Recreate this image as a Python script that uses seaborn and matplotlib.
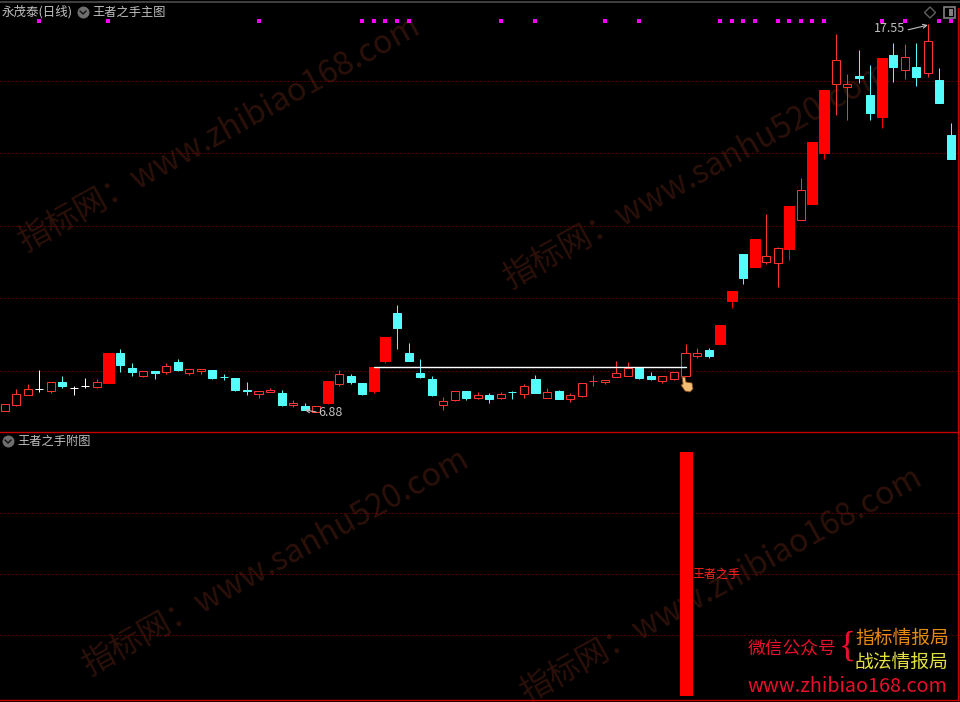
import numpy as np
import pandas as pd
import matplotlib
matplotlib.use("Agg")
import matplotlib.pyplot as plt
from matplotlib.lines import Line2D
from matplotlib.patches import Polygon, Rectangle
import seaborn as sns

opens = [6.91, 7.06, 7.35, 7.50, 7.45, 7.70, 7.54, 7.58, 7.57, 7.67,
         8.50, 8.08, 7.87, 8.00, 7.98, 8.25, 7.95, 8.00, 8.03, 7.84,
         7.81, 7.47, 7.37, 7.43, 7.39, 7.07, 7.04, 6.88, 7.12, 7.64,
         7.86, 7.67, 7.45, 8.28, 9.60, 8.50, 7.94, 7.78, 7.06, 7.20,
         7.45, 7.26, 7.34, 7.26, 7.42, 7.37, 7.78, 7.26, 7.45, 7.23,
         7.31, 7.72, 7.70, 7.83, 7.86, 8.08, 7.86, 7.72, 7.78, 7.86,
         8.41, 8.58, 8.74, 9.93, 11.22, 10.87, 11.01, 10.98, 11.36, 12.17,
         12.60, 14.01, 15.92, 15.83, 16.12, 15.60, 15.00, 16.71, 16.30, 16.38,
         16.22, 16.02, 14.50]
closes = [7.08, 7.36, 7.50, 7.50, 7.69, 7.59, 7.54, 7.58, 7.69, 8.50,
          8.17, 7.97, 7.99, 7.94, 8.13, 8.03, 8.05, 8.05, 7.81, 7.83,
          7.48, 7.46, 7.44, 7.48, 7.06, 7.12, 6.93, 7.04, 7.72, 7.92,
          7.70, 7.37, 8.11, 8.94, 9.18, 8.28, 7.83, 7.34, 7.17, 7.45,
          7.26, 7.33, 7.23, 7.37, 7.41, 7.59, 7.39, 7.42, 7.23, 7.34,
          7.67, 7.73, 7.75, 7.94, 8.08, 7.81, 7.78, 7.86, 7.97, 8.50,
          8.50, 8.41, 9.27, 10.20, 10.56, 11.64, 11.16, 11.38, 12.55, 12.98,
          14.31, 15.74, 16.56, 15.90, 16.07, 15.11, 16.62, 16.38, 16.64, 16.10,
          17.08, 15.38, 13.84]
highs = [7.08, 7.50, 7.64, 8.03, 7.69, 7.86, 7.59, 7.81, 7.78, 8.50,
         8.61, 8.22, 7.99, 8.00, 8.21, 8.33, 8.05, 8.05, 8.03, 7.92,
         7.81, 7.70, 7.44, 7.53, 7.48, 7.20, 7.12, 7.04, 7.72, 8.03,
         7.92, 7.67, 8.11, 8.94, 9.82, 8.77, 8.33, 7.86, 7.28, 7.45,
         7.45, 7.42, 7.39, 7.42, 7.45, 7.64, 7.89, 7.53, 7.48, 7.39,
         7.67, 7.89, 7.75, 8.28, 8.25, 8.08, 7.97, 7.86, 7.97, 8.74,
         8.63, 8.63, 9.27, 10.20, 11.22, 11.64, 12.33, 11.42, 12.55, 13.32,
         14.31, 15.74, 17.28, 16.18, 16.84, 16.43, 16.62, 17.04, 17.01, 17.04,
         17.55, 16.35, 14.83]
lows = [6.91, 7.04, 7.35, 7.43, 7.39, 7.54, 7.34, 7.53, 7.54, 7.67,
        7.97, 7.86, 7.83, 7.78, 7.93, 8.00, 7.89, 7.92, 7.78, 7.75,
        7.45, 7.34, 7.26, 7.43, 7.04, 7.01, 6.93, 6.88, 7.09, 7.59,
        7.64, 7.34, 7.39, 8.22, 8.61, 8.28, 7.81, 7.31, 6.93, 7.17,
        7.20, 7.23, 7.12, 7.23, 7.23, 7.26, 7.39, 7.26, 7.23, 7.15,
        7.28, 7.59, 7.64, 7.83, 7.86, 7.78, 7.75, 7.67, 7.75, 7.86,
        8.36, 8.36, 8.74, 9.74, 10.40, 10.87, 10.95, 10.31, 11.06, 12.17,
        12.60, 13.84, 15.05, 14.92, 15.93, 14.92, 14.69, 15.96, 16.04, 15.85,
        16.10, 15.38, 13.84]
# filled red candles (drawn wider than the hollow ones)
solid_bars = [9, 28, 32, 33, 62, 63, 65, 68, 70, 71, 76]
# magenta signal row along the top of the main pane
signal_bars = [3, 9, 22, 31, 32, 33, 34, 35, 43, 46, 52, 55, 62, 63, 64, 65,
               67, 68, 69, 70, 71, 76, 78, 81, 82]
signal_level = 17.64
# white breakout line
line_bars = [32, 59]
line_level = 8.10
# sub pane: one bar only
sub_bar = 59
sub_value = 1.0

grid_main = [8, 10, 12, 14, 16]
grid_sub = [0.25, 0.5, 0.75]

RED = "#ff3232"
SOLID = "#ff0000"
CYAN = "#54fcfc"
GRID = "#a00000"
GRAY = "#c0c0c0"
WM = "#2c100a"

W, H = 960, 702

sns.set_theme(style="dark", rc={"figure.facecolor": "black", "savefig.facecolor": "black",
                                "axes.facecolor": "none", "axes.grid": False})
plt.rcParams['font.family'] = ['Noto Sans CJK SC', 'DejaVu Sans']

fig = plt.figure(figsize=(W / 100, H / 100), dpi=100)


def make_axes(top, bottom):
    return fig.add_axes([0, 1 - bottom / H, 958 / W, (bottom - top) / H])


ax1 = make_axes(8, 432)
ax2 = make_axes(433, 700)

n = len(opens)
idx = np.arange(n)
o = np.array(opens)
c = np.array(closes)
is_solid = np.isin(idx, solid_bars)
colors = np.where(c > o, RED, np.where(c < o, CYAN, "#ffffff"))
colors = np.where(is_solid, SOLID, colors)
faces = np.where(c < o, CYAN, "#000000")
faces = np.where(is_solid, SOLID, faces)
widths = np.where(is_solid, 0.87, 0.7)

wicks = ax1.vlines(idx, lows, highs, colors=colors, lw=0.72, zorder=2)
wicks.set_snap(True)
bars = ax1.bar(idx, np.abs(c - o), bottom=np.minimum(o, c), width=widths, facecolor=faces,
               edgecolor=colors, linewidth=0.72, zorder=3)
for b in bars:
    b.set_joinstyle("miter")
    b.set_snap(True)

signals = pd.DataFrame({"bar": signal_bars, "level": signal_level})
sns.scatterplot(data=signals, x="bar", y="level", ax=ax1, marker="s", s=7, color="#ff00ff",
                linewidth=0, zorder=4, legend=False)

sns.lineplot(x=line_bars, y=[line_level, line_level], ax=ax1, color="white", lw=1.0,
             zorder=4, errorbar=None)

for g in grid_main:
    ax1.axhline(g, color=GRID, lw=0.72, ls=(0, (1, 3)), zorder=1)

ax1.set_xlim(-0.40, 82.61)
ax1.set_ylim(6.32, 18.0)

sub = pd.DataFrame({"bar": idx, "v": np.where(idx == sub_bar, sub_value, 0.0)})
sns.barplot(data=sub, x="bar", y="v", ax=ax2, native_scale=True, color=SOLID, saturation=1,
            width=1.13, linewidth=0, zorder=3)
for g in grid_sub:
    ax2.axhline(g, color=GRID, lw=0.72, ls=(0, (1, 3)), zorder=1)
ax2.set_xlim(-0.46, 82.55)
ax2.set_ylim(-0.016, 1.078)

for ax in (ax1, ax2):
    ax.set_xticks([])
    ax.set_yticks([])
    ax.set_xlabel("")
    ax.set_ylabel("")
    ax.patch.set_alpha(0)
    for s in ("top", "left"):
        ax.spines[s].set_visible(False)
    for s in ("right", "bottom"):
        ax.spines[s].set_color("#c80000")
        ax.spines[s].set_linewidth(1.0)


def px(x, y):
    return x / W, 1 - y / H


def label(x, y, s, size, color, **kw):
    kw.setdefault("ha", "left")
    kw.setdefault("va", "center")
    return fig.text(*px(x, y), s, fontsize=size * 0.72, color=color, **kw)


# watermarks sit behind the axes
for x, y, s in [(21, 243, "指标网：www.zhibiao168.com"),
                (506, 280, "指标网：www.sanhu520.com"),
                (85, 667, "指标网：www.sanhu520.com"),
                (523, 694, "指标网：www.zhibiao168.com")]:
    fig.text(*px(x, y), s, fontsize=23.2, color=WM, rotation=28.9, rotation_mode="anchor",
             ha="left", va="center", zorder=-1)

# top strip
fig.add_artist(Line2D([0, 1], [1 - 2 / H, 1 - 2 / H], color="#404040", lw=1.4))


def icon(x, y):
    fig.add_artist(Line2D([x / W], [1 - y / H], marker="o", ms=8.6, mfc="#6e6e6e", mec="none", ls=""))
    fig.add_artist(Line2D([(x - 3) / W, x / W, (x + 3) / W],
                          [1 - (y - 1) / H, 1 - (y + 2) / H, 1 - (y - 1) / H], color="#111111", lw=1.0))


label(2, 12, "永茂泰(日线)", 12.5, GRAY)
icon(83, 12)
label(92, 12, "王者之手主图", 12.2, GRAY)
icon(8, 441)
label(17, 441, "王者之手附图", 12.2, GRAY)

# right hand top icons
fig.add_artist(Polygon([px(930, 7), px(935.5, 12.5), px(930, 18), px(924.5, 12.5)], closed=True,
                       fill=False, ec="#606060", lw=1.0))
fig.add_artist(Rectangle(px(944, 18), 11 / W, 11 / H, fill=False, ec="#808080", lw=1.2))
fig.add_artist(Rectangle(px(949, 16), 4 / W, 7 / H, fc="#808080", ec="none"))

# high / low labels
label(318, 413, "6.88", 12.5, GRAY)
ax1.annotate("", xy=(26.0, 6.93), xytext=(27.0, 6.87), zorder=5,
             arrowprops=dict(arrowstyle="->", color=GRAY, lw=0.8, mutation_scale=7, shrinkA=0, shrinkB=0))
label(874, 28, "17.55", 12.5, GRAY)
ax1.annotate("", xy=(80, 17.53), xytext=(78.3, 17.40), zorder=5,
             arrowprops=dict(arrowstyle="->", color=GRAY, lw=0.8, mutation_scale=7, shrinkA=0, shrinkB=0))

label(692, 574, "王者之手", 12, "#ff2020")

# hand cursor
fig.add_artist(Polygon([px(682, 377), px(685, 377), px(686, 382), px(692, 383), px(693, 389),
                        px(690, 392), px(685, 391), px(681, 385), px(683, 384)], closed=True,
                       fc="#f2bd73", ec="#7a4a20", lw=0.6))

# bottom right stamp
label(748, 650, "微信公众号", 17.7, "#e8102a")
label(847, 647, "{", 36, "#e8102a", ha="center", family=["Liberation Serif"])
label(855, 638, "指标情报局", 18.8, "#e58a10")
label(855, 662, "战法情报局", 18.8, "#e4e040")
label(747, 687, "www.zhibiao168.com", 19.8, "#e8102a")

fig.savefig("out.png", dpi=100)
